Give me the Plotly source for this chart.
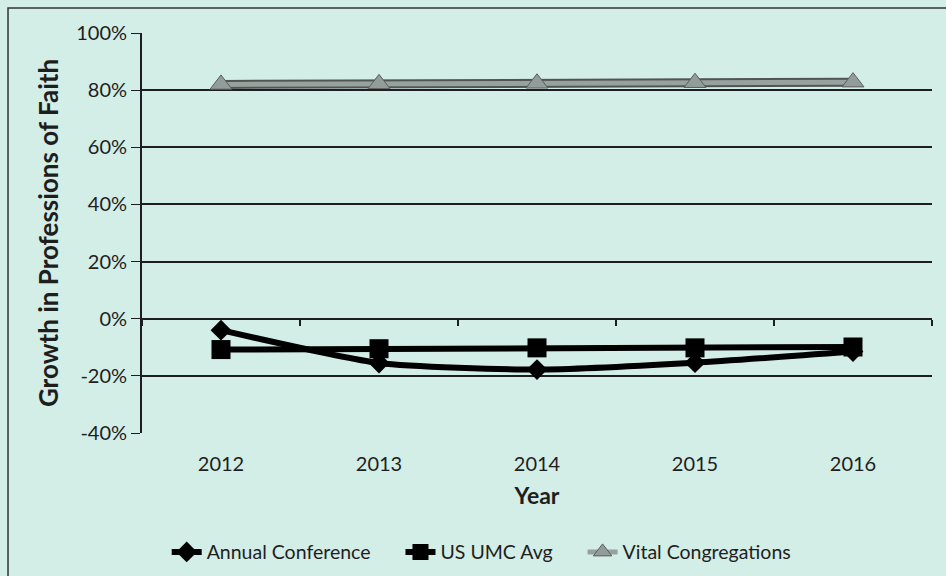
import plotly.graph_objects as go

years = ["2012", "2013", "2014", "2015", "2016"]
annual_conf = [-0.04, -0.155, -0.178, -0.154, -0.115]
us_umc_avg = [-0.108, -0.105, -0.102, -0.102, -0.099]
vital_cong = [0.82, 0.822, 0.824, 0.826, 0.828]
y_ticks = [-0.4, -0.2, 0, 0.2, 0.4, 0.6, 0.8, 1.0]
y_labels = ["-40%", "-20%", "0%", "20%", "40%", "60%", "80%", "100%"]

bg = "#d3ede7"
font = "Lato"
pad = "\u00a0" * 5
n = len(years)

fig = go.Figure()
fig.add_trace(go.Scatter(x=years, y=annual_conf, name="Annual Conference" + pad, mode="lines+markers",
                         line=dict(color="black", width=6, shape="spline", smoothing=0.6),
                         marker=dict(symbol="diamond", size=16, color="black")))
fig.add_trace(go.Scatter(x=years, y=us_umc_avg, name="US UMC Avg" + pad, mode="lines+markers",
                         line=dict(color="black", width=6),
                         marker=dict(symbol="square", size=19, color="black")))
# outline for vital congregations line
fig.add_trace(go.Scatter(x=years, y=vital_cong, mode="lines", showlegend=False, hoverinfo="skip",
                         line=dict(color="#4f5553", width=9), legendgroup="vc"))
fig.add_trace(go.Scatter(x=years, y=vital_cong, name="Vital Congregations", mode="lines+markers",
                         legendgroup="vc",
                         line=dict(color="#97a19e", width=5),
                         marker=dict(symbol="triangle-up", size=19, color="#929c99",
                                     line=dict(color="#5a5f5e", width=1))))
# invisible helper trace so the category-boundary tick axis at 0% is drawn
fig.add_trace(go.Scatter(x=list(range(n)), y=us_umc_avg, xaxis="x2", mode="markers",
                         marker=dict(opacity=0), showlegend=False, hoverinfo="skip"))

fig.update_layout(
    width=946, height=576,
    paper_bgcolor=bg, plot_bgcolor=bg,
    margin=dict(l=142, r=14, t=33, b=143, autoexpand=False),
    font=dict(family=font, size=20, color="#1e1e1e"),
    showlegend=True,
    legend=dict(orientation="h", x=0.43, xanchor="center", y=-0.298, yanchor="middle",
                font=dict(size=19.5), bgcolor="rgba(0,0,0,0)", tracegroupgap=0),
    shapes=[dict(type="rect", xref="paper", yref="paper", x0=-0.1696, x1=1.03, y0=-0.4, y1=1.0625,
                 line=dict(color="#333", width=1.5), fillcolor="rgba(0,0,0,0)", layer="below")],
    xaxis=dict(type="category", range=[-0.5, n - 0.5],
               title=dict(text="<b>Year</b>", font=dict(size=23), standoff=13),
               showgrid=False, showline=False, zeroline=False, ticks="",
               tickfont=dict(size=20), ticklabelstandoff=17),
    xaxis2=dict(overlaying="x", anchor="free", side="bottom",
                position=(0 - y_ticks[0]) / (y_ticks[-1] - y_ticks[0]),
                range=[-0.5, n - 0.5], tickvals=[i - 0.5 for i in range(n + 1)],
                showticklabels=False, ticks="outside", ticklen=6, tickwidth=1.8, tickcolor="#1e1e1e",
                showgrid=False, showline=False, zeroline=False),
    yaxis=dict(range=[-0.4, 1.0], tickvals=y_ticks, ticktext=y_labels,
               showgrid=True, gridcolor="#1e1e1e", gridwidth=1.8,
               showline=True, linecolor="#1e1e1e", linewidth=1.8,
               ticks="outside", ticklen=9, tickcolor="#1e1e1e",
               zeroline=False,
               title=dict(text="<b>Growth in Professions of Faith</b>", font=dict(size=26), standoff=10),
               tickfont=dict(size=20)),
)

fig.write_html("out.html", config={"displayModeBar": False},
               post_script="document.body.style.margin='0';")
